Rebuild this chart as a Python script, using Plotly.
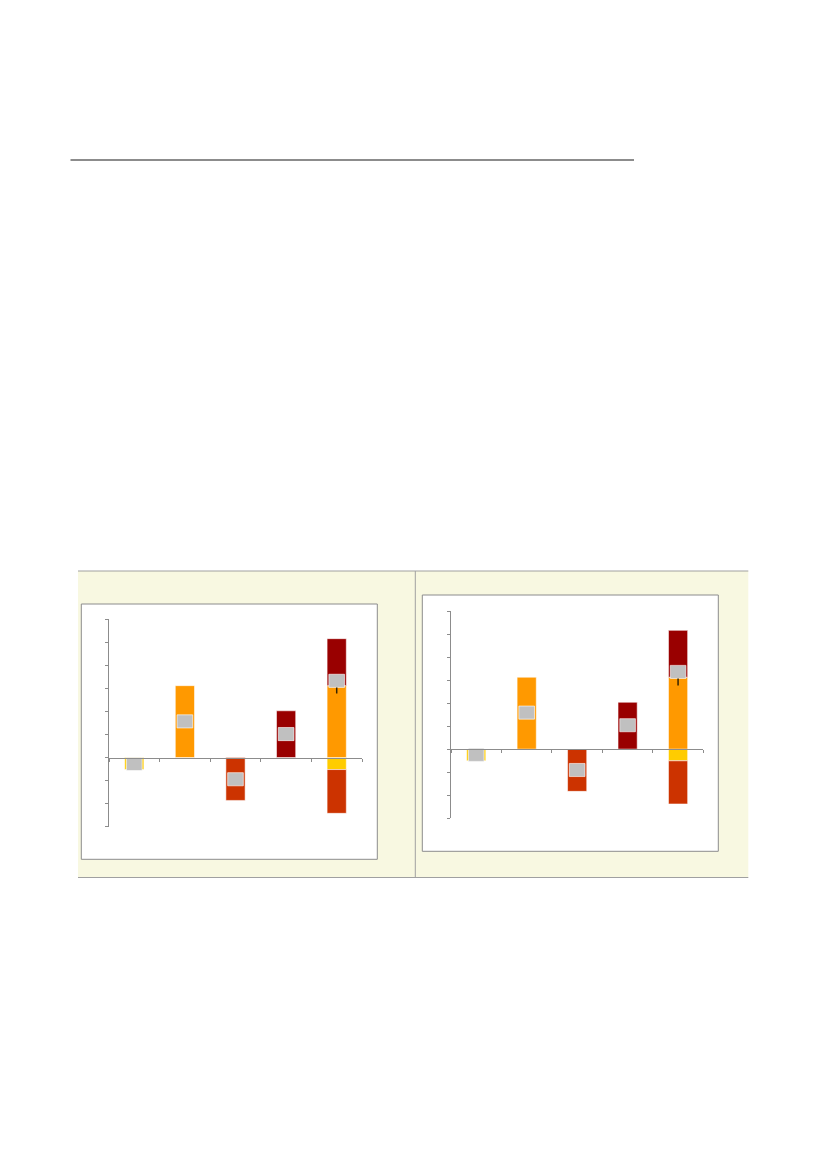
import plotly.graph_objects as go

# page size in pixels; the page body adds an 8px margin, so the figure is drawn 16px smaller
OFF = 8
W, H = 827 - 2 * OFF, 1169 - 2 * OFF

# categories (no labels shown in the chart)
categories = ["c1", "c2", "c3", "c4", "total"]

# left panel values
left_yellow = [-0.52, None, None, None, -0.52]
left_orange = [None, 3.12, None, None, 3.12]
left_redorange = [None, None, -1.86, None, -1.90]
left_darkred = [None, None, None, 2.03, 2.04]
left_gray = [-0.28, 1.57, -0.94, 1.02, 3.33]
left_tick = [3.04, 2.78]

# right panel values
right_yellow = [-0.51, None, None, None, -0.51]
right_orange = [None, 3.13, None, None, 3.13]
right_redorange = [None, None, -1.84, None, -1.88]
right_darkred = [None, None, None, 2.04, 2.04]
right_gray = [-0.25, 1.59, -0.91, 1.04, 3.36]
right_tick = [3.07, 2.77]

y_ticks = [-3, -2, -1, 0, 1, 2, 3, 4, 5, 6]

colors = ["#FFCC00", "#FF9900", "#CC3300", "#990000"]
GRAY = "#C0C0C0"
BOX_H = 0.57
AXIS_COL = "#8C8C8C"


def px(x):
    return (x - OFF) / W


def py(y):
    return 1 - (y - OFF) / H


def add_panel(fig, series, gray, tick, xa, ya):
    xs = list(range(1, len(categories) + 1))
    pos = [0.0] * len(xs)
    neg = [0.0] * len(xs)
    for vals, col in zip(series, colors):
        bases = []
        for i, v in enumerate(vals):
            if v is None:
                bases.append(0)
            elif v >= 0:
                bases.append(pos[i])
                pos[i] += v
            else:
                bases.append(neg[i])
                neg[i] += v
        fig.add_trace(go.Bar(
            x=xs, y=vals, base=bases, width=0.38,
            marker=dict(color=col, line=dict(color="rgba(255,255,255,0.55)", width=1)),
            xaxis=xa, yaxis=ya, showlegend=False, hoverinfo="skip"))
    fig.add_trace(go.Bar(
        x=xs, y=[BOX_H] * len(gray), base=[g - BOX_H / 2 for g in gray],
        width=0.31, marker=dict(color=GRAY, line=dict(color="rgba(255,255,255,0.6)", width=1)),
        xaxis=xa, yaxis=ya, showlegend=False, hoverinfo="skip"))
    fig.add_trace(go.Scatter(
        x=[xs[-1], xs[-1]], y=tick, mode="lines",
        line=dict(color="#332200", width=1.5),
        xaxis=xa, yaxis=ya, showlegend=False, hoverinfo="skip"))


fig = go.Figure()
add_panel(fig, [left_yellow, left_orange, left_redorange, left_darkred],
          left_gray, left_tick, "x", "y")
add_panel(fig, [right_yellow, right_orange, right_redorange, right_darkred],
          right_gray, right_tick, "x2", "y2")

# axes: pixel boxes of the two plots
panels = [
    ("xaxis", "yaxis", (109, 362), (826.7, 619.3)),
    ("xaxis2", "yaxis2", (451, 703.3), (818, 611.3)),
]
layout_axes = {}
for xk, yk, (x0, x1), (yb, yt) in panels:
    d0, d1 = py(yb), py(yt)
    zero_pos = d0 + (0 - y_ticks[0]) / (y_ticks[-1] - y_ticks[0]) * (d1 - d0)
    layout_axes[xk] = dict(
        domain=[px(x0), px(x1)], range=[0.5, len(categories) + 0.5],
        tickvals=[i + 0.5 for i in range(len(categories) + 1)],
        showticklabels=False, ticks="outside", ticklen=3, tickcolor=AXIS_COL,
        showline=True, linecolor=AXIS_COL, linewidth=1, showgrid=False,
        zeroline=False, anchor="free", position=zero_pos, fixedrange=True)
    layout_axes[yk] = dict(
        domain=[d0, d1], range=[y_ticks[0], y_ticks[-1]], tickvals=y_ticks,
        showticklabels=False, ticks="outside", ticklen=3, tickcolor=AXIS_COL,
        showline=True, linecolor=AXIS_COL, linewidth=1, showgrid=False,
        zeroline=False, anchor=xk.replace("axis", ""), fixedrange=True)

shapes = [
    # rule across the page
    dict(type="line", xref="paper", yref="paper", x0=px(70.5), x1=px(634), y0=py(160), y1=py(160),
         line=dict(color="#666666", width=1.3)),
    # beige band behind both charts
    dict(type="rect", xref="paper", yref="paper", x0=px(78), x1=px(748.3), y0=py(877.5), y1=py(571),
         fillcolor="#F8F8E1", line=dict(width=0), layer="below"),
    dict(type="line", xref="paper", yref="paper", x0=px(78), x1=px(748.3), y0=py(571), y1=py(571),
         line=dict(color="#A0A0A0", width=1), layer="below"),
    dict(type="line", xref="paper", yref="paper", x0=px(78), x1=px(748.3), y0=py(877.5), y1=py(877.5),
         line=dict(color="#A0A0A0", width=1), layer="below"),
    dict(type="line", xref="paper", yref="paper", x0=px(415.3), x1=px(415.3), y0=py(877.5), y1=py(571),
         line=dict(color="#A0A0A0", width=1), layer="below"),
    # white chart boxes
    dict(type="rect", xref="paper", yref="paper", x0=px(81.3), x1=px(377.3), y0=py(859.3), y1=py(604),
         fillcolor="white", line=dict(color="#8C8C8C", width=1), layer="below"),
    dict(type="rect", xref="paper", yref="paper", x0=px(422.3), x1=px(718.3), y0=py(851.3), y1=py(595),
         fillcolor="white", line=dict(color="#8C8C8C", width=1), layer="below"),
]

fig.update_layout(
    width=W, height=H, margin=dict(l=0, r=0, t=0, b=0),
    paper_bgcolor="white", plot_bgcolor="rgba(0,0,0,0)",
    barmode="overlay", showlegend=False, shapes=shapes,
    **layout_axes)

fig.write_html("out.html", config={"displayModeBar": False})
